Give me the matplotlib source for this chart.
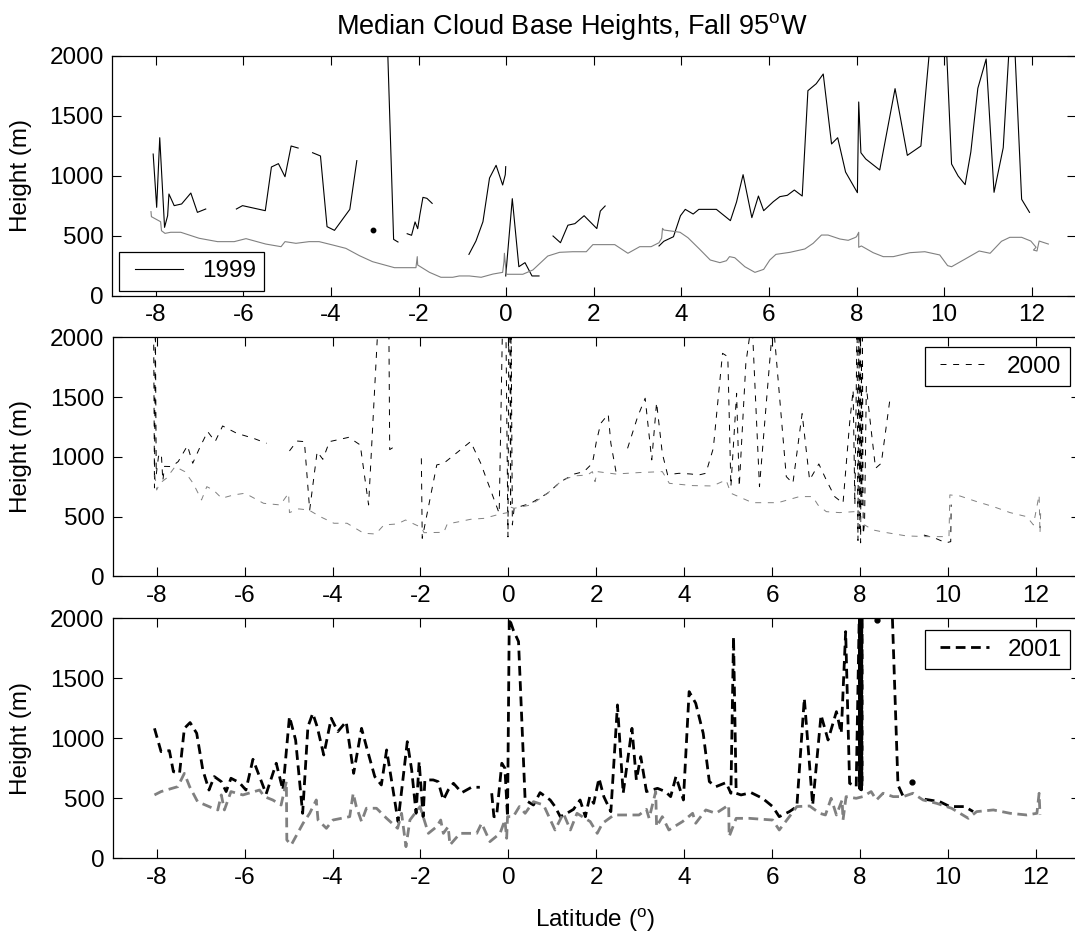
import numpy as np
import matplotlib
matplotlib.use("Agg")
import matplotlib.pyplot as plt
from matplotlib.lines import Line2D
from matplotlib.legend_handler import HandlerLine2D

nan = np.nan

# ---------------- DATA ----------------
# 1999 (top panel)
lat99_black = [-8.06, -7.98, -7.91, -7.80, -7.73, -7.70, -7.58, -7.41, -7.20, -7.05, -6.86, nan,
               -6.16, -6.02, -5.50, -5.36, -5.20, -5.05, -4.91, -4.75, nan,
               -4.42, -4.24, -4.09, -3.92, -3.57, -3.41, nan,
               -2.71, -2.57, -2.47, nan,
               -2.26, -2.16, -2.08, -2.02, -1.97, -1.90, -1.81, -1.69, nan,
               -0.85, -0.69, -0.53, -0.38, -0.23, -0.08, -0.02, -0.01, nan,
               -0.01, 0.14, 0.29, 0.43, 0.59, 0.75, nan,
               1.07, 1.24, 1.41, 1.57, 1.78, 2.07, 2.15, 2.26, nan,
               3.49, 3.60, 3.82, 3.98, 4.09, 4.27, 4.40, 4.80, 5.12, 5.26, 5.41, 5.61, 5.76, 5.88,
               6.10, 6.25, 6.42, 6.58, 6.76, 6.89, 7.08, 7.24, 7.43, 7.57, 7.75, 8.02, 8.05, 8.10,
               8.21, 8.53, 8.88, 9.16, 9.47, 9.68, 10.05, 10.17, 10.32, 10.48, 10.61, 10.77, 10.96,
               11.14, 11.35, 11.49, 11.61, 11.77, 11.95]
h99_black = [1183, 739, 1319, 572, 669, 850, 753, 767, 858, 697, 725, nan,
             725, 753, 711, 1075, 1103, 994, 1250, 1233, nan,
             1194, 1167, 578, 547, 722, 1128, nan,
             2100, 472, 450, nan,
             519, 506, 617, 561, 678, 822, 814, 772, nan,
             347, 458, 619, 983, 1089, 925, 1011, 1078, nan,
             167, 811, 244, 278, 167, 167, nan,
             500, 444, 590, 603, 669, 562, 708, 750, nan,
             417, 456, 494, 669, 722, 683, 722, 722, 628, 783, 1011, 653, 833, 711,
             786, 828, 839, 883, 833, 1711, 1769, 1850, 1267, 1319, 1033, 861, 1617, 1194,
             1142, 1050, 1728, 1172, 1250, 2100, 2100, 1100, 1000, 928, 1200, 1731, 1975,
             864, 1236, 2100, 2100, 806, 697]
lat99_dot = [-3.03]
h99_dot = [553]

lat99_gray = [-8.11, -8.10, -7.89, -7.87, -7.79, -7.66, -7.43, -7.01, -6.59, -6.21, -5.94, -5.49,
              -5.14, -5.05, -4.80, -4.50, -4.27, -3.96, -3.66, -3.35, -3.05, -2.55, -2.06, -2.03,
              -2.02, -1.75, -1.49, -1.22, -1.07, -0.84, -0.57, -0.30, -0.08, -0.05, -0.04, 0.0,
              0.02, 0.38, 0.61, 0.95, 1.22, 1.52, 1.83, 1.98, 2.48, 2.78, 3.05, 3.31, 3.49, 3.55,
              3.57, 3.60, 3.97, 4.15, 4.42, 4.66, 4.88, 5.03, 5.10, 5.22, 5.45, 5.68, 5.88, 6.02,
              6.16, 6.48, 6.82, 7.01, 7.20, 7.35, 7.62, 7.81, 7.96, 8.00, 8.05, 8.05, 8.11, 8.38,
              8.61, 8.84, 9.22, 9.56, 9.90, 10.08, 10.17, 10.48, 10.80, 11.05, 11.31, 11.50, 11.77,
              11.98, 12.10, 12.04, 12.12, 12.17, 12.38]
h99_gray = [703, 661, 619, 544, 522, 531, 531, 481, 453, 453, 478, 433,
            411, 453, 439, 453, 453, 425, 397, 336, 286, 236, 236, 328,
            258, 197, 156, 156, 167, 167, 156, 183, 197, 286, 356, 189,
            181, 181, 217, 333, 364, 369, 369, 428, 428, 356, 411, 411, 444, 481,
            564, 550, 531, 486, 389, 300, 278, 294, 328, 319, 244, 197, 222, 300,
            347, 364, 392, 439, 508, 508, 475, 464, 486, 494, 531, 406, 417, 361,
            328, 328, 361, 369, 342, 253, 244, 308, 375, 356, 456, 489, 489,
            458, 406, 383, 375, 458, 433]

# 2000 (middle panel)
lat00_black = [-8.07, -8.05, -8.03, -8.01, -7.96, -7.93, -7.89, -7.86, -7.82, -7.66, -7.51, -7.30,
               -7.18, -7.01, -6.84, -6.67, -6.50, -6.18, -5.80, -5.50, nan,
               -4.98, -4.81, -4.64, -4.52, -4.35, -4.22, -4.07, -3.63, -3.37, -3.18, -2.96, -2.72,
               -2.70, -2.53, nan,
               -1.98, -1.96, -1.63, -1.47, -0.86, -0.63, -0.21, -0.13, -0.06, -0.01, 0.01, 0.03,
               0.05, 0.06, 0.09, 0.13, 0.51, 0.89, 1.19, 1.50, 1.72, 1.91, 1.96, 2.00, 2.10, 2.27,
               2.33, 2.46, nan,
               2.71, 2.94, 3.11, 3.26, 3.37, 3.50, 3.62, 3.88, 4.15, 4.33, 4.49, 4.66, 4.87, 4.99,
               5.06, 5.19, 5.25, 5.40, 5.54, 5.71, 6.01, 6.03, 6.32, 6.47, 6.68, 6.85, 7.06, 7.23,
               7.42, 7.61, 7.76, 7.84, 7.88, 7.93, 7.95, 7.97, 7.99, 8.00, 8.01, 8.03, 8.04, 8.05,
               8.07, 8.10, 8.14, 8.25, 8.35, 8.48, 8.67, nan,
               9.45, 9.70, 9.95, 10.06, 10.07]
h00_black = [2150, 740, 2150, 850, 1000, 1030, 1000, 800, 920, 918, 960, 1093,
             946, 1085, 1211, 1127, 1258, 1197, 1155, 1113, nan,
             1049, 1132, 1127, 555, 1043, 979, 1127, 1163, 1099, 597, 2150, 2150,
             1060, 1100, nan,
             987, 318, 932, 946, 1127, 946, 527, 2200, 2200, 330, 2200, 2200,
             600, 2200, 430, 569, 611, 695, 792, 856, 876, 946, 1043, 1127, 1280, 1356,
             1113, 848, nan,
             1071, 1336, 1490, 974, 1454, 1029, 850, 862, 856, 848, 862, 1071, 1866, 1838,
             750, 1531, 750, 1782, 2150, 750, 2100, 2100, 834, 778, 1361, 806, 940, 806,
             667, 611, 1280, 1559, 600, 2150, 300, 2150, 400, 2150, 280, 1800, 600, 2150,
             350, 444, 1587, 1225, 904, 946, 1462, nan,
             345, 320, 280, 290, 600]

lat00_gray = [-8.04, -8.00, -7.93, -7.78, -7.58, -7.36, -7.17, -6.98, -6.86, -6.71, -6.52, -6.25,
              -5.99, -5.57, -5.19, -5.00, -4.98, -4.77, -4.54, -4.28, -3.97, -3.67, -3.29, -3.02,
              -2.83, -2.53, -2.34, -2.07, -1.98, -1.92, -1.47, -1.39, -1.12, -0.86, -0.55, -0.21,
              -0.02, 0.02, 0.13, 0.51, 0.89, 1.23, 1.50, 1.80, 1.91, 1.97, 2.02, 2.44, 2.97, 3.50,
              3.66, 4.19, 4.64, 4.95, 5.06, 5.55, 6.13, 6.62, 6.92, 7.04, 7.23, 7.53, 7.87, 7.99,
              8.03, 8.10, 8.29, 8.56, 9.05, 9.51, 9.89, 10.02, 10.04, 10.27, 10.65, 11.03, 11.41,
              11.79, 11.94, 12.07, 12.09, 12.11]
h00_gray = [848, 722, 778, 820, 918, 876, 778, 639, 750, 722, 653, 681,
            695, 611, 597, 695, 533, 564, 555, 499, 444, 444, 360, 354,
            430, 438, 471, 424, 410, 365, 368, 438, 457, 477, 485, 519,
            533, 583, 569, 597, 695, 806, 840, 848, 876, 792, 876, 856, 868, 876,
            778, 759, 756, 806, 695, 616, 616, 667, 667, 597, 541, 533, 541, 499,
            416, 430, 388, 368, 338, 332, 332, 332, 681, 672, 625, 583, 533,
            499, 430, 681, 360, 583]

# 2001 (bottom panel)
lat01_black = [-8.05, -7.90, -7.71, -7.62, -7.48, -7.37, -7.24, -7.09, -6.95, -6.81, -6.69, -6.53,
               -6.42, -6.31, -6.12, -5.97, -5.81, -5.66, -5.51, -5.28, -5.13, -4.98, -4.84, -4.68,
               -4.56, -4.45, -4.35, -4.20, -4.03, -3.88, -3.69, -3.52, -3.34, -3.23, -3.04, -2.89,
               -2.77, -2.66, -2.51, -2.30, -2.20, -2.10, -2.03, -1.94, -1.90, -1.71, -1.60, -1.48,
               -1.37, -1.25, -1.06, -0.84, -0.65, nan,
               -0.38, -0.33, -0.27, -0.15, -0.08, -0.02, 0.02, 0.11, 0.23, 0.38, 0.57, 0.72, 0.95,
               1.06, 1.18, 1.33, 1.48, 1.63, 1.75, 1.85, 1.94, 2.06, 2.17, 2.33, 2.48, 2.61, 2.81,
               2.91, 3.01, 3.14, 3.39, 3.57, 3.69, 3.81, 3.98, 4.11, 4.26, 4.43, 4.57, 4.72, 4.95,
               5.06, 5.12, 5.18, 5.29, 5.52, 5.78, 6.01, 6.16, 6.39, 6.56, 6.73, 6.92, 7.11, 7.27,
               7.46, 7.57, 7.67, 7.76, 7.91, 7.985, 7.99, 7.995, 8.00, 8.005, 8.01, 8.015, 8.02,
               8.025, 8.03, 8.035, 8.04, 8.045, 8.05, 8.72, 8.86, 8.98, nan,
               9.47, 9.81, 10.04, 10.38, 10.57]
h01_black = [1083, 889, 897, 722, 708, 1083, 1131, 1042, 736, 569, 681, 639,
             556, 667, 631, 569, 825, 681, 536, 792, 569, 1181, 986, 375,
             1097, 1208, 1097, 861, 1167, 1056, 1139, 708, 1083, 931, 681, 611,
             903, 653, 306, 972, 736, 375, 806, 347, 653, 653, 639, 486,
             569, 625, 547, 592, 592, nan,
             542, 347, 347, 792, 750, 347, 2000, 1903, 1806, 486, 444, 547, 486,
             431, 347, 375, 408, 486, 347, 514, 458, 667, 514, 389, 1278, 542, 1083,
             653, 847, 556, 583, 556, 514, 681, 486, 1389, 1292, 1042, 639, 597, 631,
             542, 1847, 542, 528, 547, 500, 431, 347, 389, 431, 1333, 444, 1194, 986,
             1222, 1042, 1889, 625, 597, 2150, 580, 2150, 600, 2150, 560, 2150, 590,
             2150, 570, 2150, 600, 2150, 2150, 2150, 611, 514, nan,
             492, 472, 431, 431, 389]
lat01_dot = [8.39, 9.18]
h01_dot = [1985, 639]

lat01_gray = [-8.05, -7.90, -7.52, -7.37, -7.25, -7.07, -6.72, -6.61, -6.53, -6.46, -6.31, -6.04,
              -5.66, -5.55, -5.36, -5.17, -5.05, -5.04, -4.94, -4.67, -4.52, -4.37, -4.33, -4.14,
              -3.99, -3.61, -3.53, -3.46, -3.34, -3.23, -3.00, -2.77, -2.52, -2.43, -2.33, -2.24,
              -2.01, -1.82, -1.63, -1.54, -1.48, -1.37, -1.33, -1.10, -0.87, -0.72, -0.61, -0.42,
              -0.19, -0.08, -0.04, -0.02, 0.11, 0.25, 0.38, 0.57, 0.80, 1.06, 1.25, 1.41, 1.56,
              1.86, 2.02, 2.14, 2.40, 2.67, 2.97, 3.14, 3.20, 3.35, 3.37, 3.50, 3.65, 3.96, 4.19,
              4.26, 4.49, 4.72, 5.01, 5.02, 5.18, 5.48, 6.01, 6.16, 6.39, 6.56, 6.85, 7.08, 7.21,
              7.34, 7.46, 7.59, 7.61, 7.68, 7.91, 8.06, 8.25, 8.37, 8.52, 8.75, 8.98, 9.20, 9.43,
              9.74, 10.08, 10.27, 10.46, 10.65, 11.03, 11.41, 11.79, 12.02, 12.07, 12.09]
h01_gray = [528, 556, 597, 708, 597, 472, 417, 403, 528, 403, 556, 528,
            569, 514, 486, 444, 639, 153, 111, 292, 375, 486, 319, 250,
            319, 347, 542, 431, 306, 417, 417, 333, 250, 375, 97, 319,
            431, 208, 264, 319, 208, 264, 111, 208, 208, 208, 292, 139,
            208, 319, 167, 347, 347, 431, 375, 472, 444, 236, 375, 236, 375,
            306, 208, 292, 361, 361, 361, 408, 333, 556, 264, 347, 236, 306, 375,
            292, 403, 375, 444, 181, 333, 333, 319, 236, 347, 431, 436, 375, 361,
            500, 361, 486, 319, 514, 500, 514, 556, 486, 542, 514, 514, 542, 486,
            458, 417, 375, 333, 389, 403, 375, 361, 375, 542, 361]

xticks = [-8, -6, -4, -2, 0, 2, 4, 6, 8, 10, 12]
yticks = [0, 500, 1000, 1500, 2000]
legend_labels = ["1999", "2000", "2001"]

# ---------------- STYLE ----------------
plt.rcParams['font.family'] = ['Liberation Sans', 'DejaVu Sans']
plt.rcParams['mathtext.fontset'] = 'custom'
plt.rcParams['mathtext.rm'] = 'Liberation Sans'
plt.rcParams['mathtext.it'] = 'Liberation Sans'
plt.rcParams['lines.scale_dashes'] = False

FS = 17.5
GRAY = '#808080'

fig = plt.figure(figsize=(10.75, 9.36), dpi=100)
W, H = 1075.0, 936.0

def mkax(left_px, right_px, top_px, bot_px):
    return fig.add_axes([left_px / W, 1 - bot_px / H, (right_px - left_px) / W, (bot_px - top_px) / H])

ax1 = mkax(112, 1075.5, 56, 296)
ax2 = mkax(112.7, 1080, 337.3, 576.3)
ax3 = mkax(112.7, 1080, 618.3, 858.3)

thin_dash = (0, (4.3, 4.8))
thick_dash = (0, (7.0, 4.0))

ax1.plot(lat99_black, h99_black, color='black', lw=0.8, label=legend_labels[0])
ax1.plot(lat99_gray, h99_gray, color=GRAY, lw=0.8)
ax1.plot(lat99_dot, h99_dot, 'o', color='black', ms=3.2)

ax2.plot(lat00_black, h00_black, color='black', lw=0.7, ls=thin_dash, label=legend_labels[1])
ax2.plot(lat00_gray, h00_gray, color=GRAY, lw=0.7, ls=thin_dash)

ax3.plot(lat01_black, h01_black, color='black', lw=2.0, ls=thick_dash, label=legend_labels[2])
ax3.plot(lat01_gray, h01_gray, color=GRAY, lw=2.0, ls=thick_dash)
ax3.plot(lat01_dot, h01_dot, 'o', color='black', ms=3.5)

for ax in (ax1, ax2, ax3):
    ax.set_xlim(-9, 13)
    ax.set_ylim(0, 2000)
    ax.set_xticks(xticks)
    ax.set_yticks(yticks)
    ax.set_xticklabels([str(t) for t in xticks])
    ax.tick_params(direction='in', length=6.5, width=0.8, top=True, right=True,
                   labelsize=FS, pad=6)
    for s in ax.spines.values():
        s.set_linewidth(0.9)
    ax.set_ylabel('Height (m)', fontsize=FS)
    ax.yaxis.set_label_coords(-0.083, 0.5)

leg_kw = dict(fontsize=FS, frameon=True, fancybox=False, shadow=False, borderaxespad=0,
              handlelength=2.3, handletextpad=0.75, borderpad=0.35,
              handler_map={Line2D: HandlerLine2D(xpad=0.3)})
l1 = ax1.legend(loc='lower left', bbox_to_anchor=(0.0073, 0.021), **leg_kw)
l2 = ax2.legend(loc='upper right', bbox_to_anchor=(0.9897, 0.9594), **leg_kw)
l3 = ax3.legend(loc='upper right', bbox_to_anchor=(0.9897, 0.951), **leg_kw)
for lg in (l1, l2, l3):
    fr = lg.get_frame()
    fr.set_edgecolor('black')
    fr.set_linewidth(0.9)
    fr.set_alpha(1)

fig.text(572 / W, 1 - 34 / H, r'Median Cloud Base Heights, Fall 95$^{\mathrm{o}}$W',
         fontsize=19.5, ha='center', va='baseline')
fig.text(595 / W, 1 - 927 / H, r'Latitude ($^{\mathrm{o}}$)', fontsize=FS,
         ha='center', va='baseline')

fig.savefig('out.png', dpi=100)
